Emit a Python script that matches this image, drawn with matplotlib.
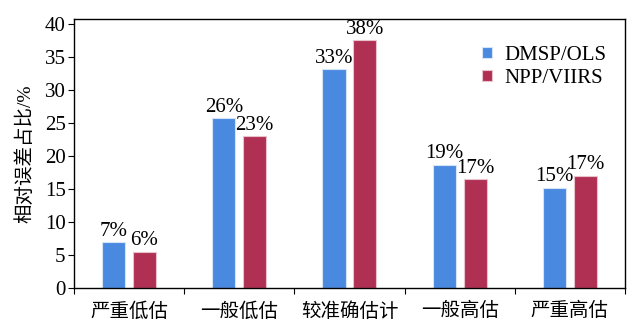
import matplotlib.pyplot as plt
import numpy as np

categories = ['严重低估', '一般低估', '较准确估计', '一般高估', '严重高估']
dmsp = [7.0, 25.7, 33.1, 18.7, 15.2]
npp = [5.5, 23.0, 37.5, 16.5, 17.0]
dmsp_labels = ['7%', '26%', '33%', '19%', '15%']
npp_labels = ['6%', '23%', '38%', '17%', '17%']
yticks = [0, 5, 10, 15, 20, 25, 30, 35, 40]

plt.rcParams['font.family'] = ['Liberation Serif', 'Noto Sans CJK SC']

fig = plt.figure(figsize=(6.41, 3.30), dpi=100)
ax = fig.add_axes([0.1154, 0.127, 0.8596, 0.815])

x = np.arange(len(categories))
w = 0.21
off = 0.14
ax.bar(x - off, dmsp, w, color='#4a89e0', edgecolor='#d6e4f7', linewidth=0.8, label='DMSP/OLS')
ax.bar(x + off, npp, w, color='#b03054', edgecolor='#e8c3cd', linewidth=0.8, label='NPP/VIIRS')

for i in range(len(categories)):
    ax.text(x[i] - off, dmsp[i] + 0.2, dmsp_labels[i], ha='center', va='bottom', fontsize=15)
    ax.text(x[i] + off, npp[i] + 0.2, npp_labels[i], ha='center', va='bottom', fontsize=15)

ax.set_xlim(-0.5, len(categories) - 0.5)
ax.set_ylim(0, 40.7)
ax.set_yticks(yticks)
ax.set_xticks(np.arange(len(categories) + 1) - 0.5)
ax.set_xticklabels([])
ax.set_xticks(x, minor=True)
ax.set_xticklabels(categories, minor=True)
ax.tick_params(axis='x', which='minor', length=0, pad=10, labelsize=14)
ax.tick_params(axis='x', which='major', direction='out', length=4)
ax.tick_params(axis='y', direction='out', length=4, labelsize=15, pad=2)
ax.set_ylabel('相对误差占比/%', fontsize=14, labelpad=7)

for s in ax.spines.values():
    s.set_linewidth(1.0)

ax.legend(loc='upper right', frameon=False, fontsize=15, handlelength=0.45, handleheight=0.45,
          handletextpad=0.6, bbox_to_anchor=(1.0, 0.97), labelspacing=0.2)

fig.savefig('out.png', dpi=100)
